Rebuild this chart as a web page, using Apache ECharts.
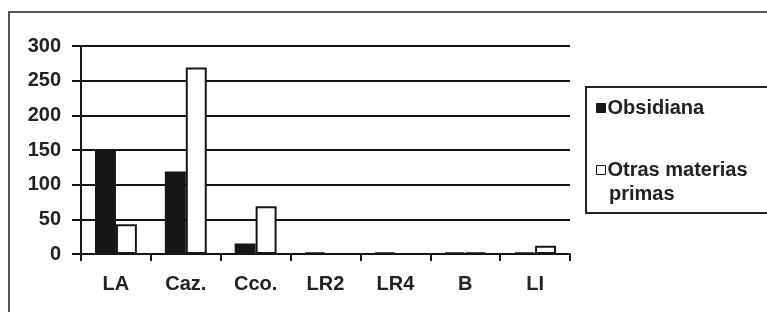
<!DOCTYPE html>
<html lang="es">
<head>
<meta charset="UTF-8">
<title>Obsidiana / Otras materias primas</title>
<script src="https://cdn.jsdelivr.net/npm/echarts@6/dist/echarts.min.js"></script>
</head>
<body style="margin:0;background:#fff;">
<div id="main" style="width:767px;height:312px;"></div>
<script>
var categories = ['LA', 'Caz.', 'Cco.', 'LR2', 'LR4', 'B', 'LI'];
var obsidiana = [150, 119, 15, 2, 2, 2, 2];
var otras = [43, 269, 69, 0, 0, 2, 12];
var yTicks = [0, 50, 100, 150, 200, 250, 300];

var font = 'Liberation Sans, Arial, sans-serif';
var ink = '#161616';

var chart = echarts.init(document.getElementById('main'));

var option = {
    backgroundColor: '#fff',
    animation: false,
    grid: { left: 81, top: 46, right: 197, bottom: 58 },
    legend: {
        orient: 'vertical',
        left: 591,
        top: 93,
        itemWidth: 9,
        itemHeight: 9,
        itemGap: 42,
        icon: 'rect',
        textStyle: { fontFamily: font, fontWeight: 'bold', fontSize: 20, color: '#222', padding: [0, 0, 0, -3] },
        data: [
            { name: 'Obsidiana', itemStyle: { color: ink, borderColor: ink, borderWidth: 1 } },
            { name: 'Otras materias primas', itemStyle: { color: '#fff', borderColor: ink, borderWidth: 1 } }
        ],
        formatter: function (n) {
            return n === 'Otras materias primas' ? 'Otras materias' : n;
        }
    },
    graphic: [
        { type: 'rect', shape: { x: 9, y: 12, width: 820, height: 400 }, style: { fill: 'none', stroke: '#555', lineWidth: 2 } },
        { type: 'rect', shape: { x: 586, y: 87, width: 260, height: 126 }, style: { fill: 'none', stroke: '#222', lineWidth: 2 } },
        { type: 'text', left: 609, top: 184, style: { text: 'primas', font: 'bold 20px ' + font, fill: '#222' } }
    ],
    xAxis: {
        type: 'category',
        data: categories,
        axisLine: { lineStyle: { color: ink, width: 2 } },
        axisTick: { show: true, length: 7, lineStyle: { color: ink, width: 2 } },
        axisLabel: { margin: 20, fontFamily: font, fontWeight: 'bold', fontSize: 20, color: '#222' }
    },
    yAxis: {
        type: 'value',
        min: yTicks[0],
        max: yTicks[yTicks.length - 1],
        interval: 50,
        axisLine: { show: true, lineStyle: { color: ink, width: 2 } },
        axisTick: { show: true, length: 9, lineStyle: { color: ink, width: 2 } },
        axisLabel: { margin: 20, fontFamily: font, fontWeight: 'bold', fontSize: 20, color: '#222' },
        splitLine: { lineStyle: { color: ink, width: 2 } }
    },
    series: [
        {
            name: 'Obsidiana',
            type: 'bar',
            data: obsidiana,
            barGap: '0%',
            barCategoryGap: '40%',
            itemStyle: { color: ink, borderColor: ink, borderWidth: 2 }
        },
        {
            name: 'Otras materias primas',
            type: 'bar',
            data: otras,
            itemStyle: { color: '#fff', borderColor: ink, borderWidth: 2 }
        }
    ]
};

chart.setOption(option);
</script>
</body>
</html>
